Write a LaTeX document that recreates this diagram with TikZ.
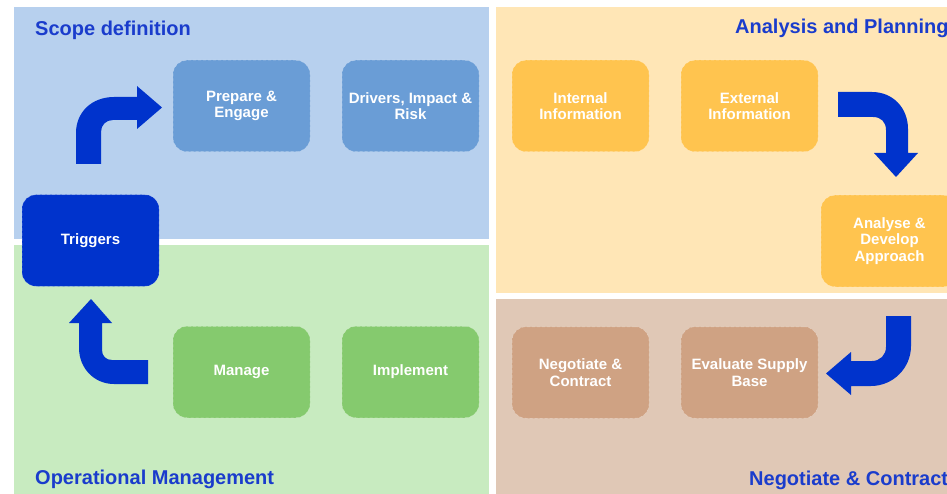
\documentclass[tikz,border=0pt]{standalone}
\usepackage{fontspec}
\setmainfont{Liberation Sans}
\definecolor{pBlue}{HTML}{B7D0EE}
\definecolor{bBlue}{HTML}{6A9DD6}
\definecolor{pGreen}{HTML}{C8EBC0}
\definecolor{bGreen}{HTML}{85CA6E}
\definecolor{pYellow}{HTML}{FFE6B6}
\definecolor{bYellow}{HTML}{FFC44F}
\definecolor{pBrown}{HTML}{E0C8B6}
\definecolor{bBrown}{HTML}{CFA283}
\definecolor{dBlue}{HTML}{0033CC}
\definecolor{tBlue}{HTML}{1A3CCC}
\begin{document}
\begin{tikzpicture}[x=1pt,y=-1pt,
  box/.style={rounded corners=14pt, minimum width=137pt, minimum height=91.5pt,
    inner sep=0pt, align=center, text=white,
    font=\fontsize{15}{16.5}\selectfont\bfseries,
    draw=white, draw opacity=0.35, line width=0.5pt, densely dashed},
  title/.style={anchor=base west, inner sep=0pt, text=tBlue,
    font=\fontsize{20}{22}\selectfont\bfseries},
  blockarrow/.style={fill=dBlue, draw=none}]
\useasboundingbox (0,0) rectangle (947,494);
\begin{scope}
\clip (0,0) rectangle (947,494);
\fill[white] (0,0) rectangle (947,494);
% panels
\fill[pBlue]   (13.5,7.5) rectangle (489,239);
\fill[pGreen]  (13.5,245) rectangle (489,500);
\fill[pYellow] (496,7.5)  rectangle (960,293);
\fill[pBrown]  (496,299)  rectangle (960,500);
% titles
\node[title] (tScope) at (35,35.5) {Scope definition};
\node[title] (tAnal)  at (735,34) {Analysis and Planning};
\node[title] (tOper)  at (35,484) {Operational Management};
\node[title] (tNeg)   at (749,485) {Negotiate \& Contract};
% boxes
\node[box, fill=dBlue]   (trig) at (90.5,240.5) {Triggers};
\node[box, fill=bBlue]   (prep) at (241.5,106) {Prepare \&\\Engage};
\node[box, fill=bBlue]   (driv) at (410.5,106) {Drivers, Impact \&\\Risk};
\node[box, fill=bYellow] (inte) at (580.5,106) {Internal\\Information};
\node[box, fill=bYellow] (exte) at (749.5,106) {External\\Information};
\node[box, fill=bYellow] (anal) at (889.5,241) {Analyse \&\\Develop\\Approach};
\node[box, fill=bBrown]  (nego) at (580.5,372.5) {Negotiate \&\\Contract};
\node[box, fill=bBrown]  (eval) at (749.5,372.5) {Evaluate Supply\\Base};
\node[box, fill=bGreen]  (mana) at (241.5,372) {Manage};
\node[box, fill=bGreen]  (impl) at (410.5,372) {Implement};
% block arrows
% Triggers -> Prepare (up, then right)
\fill[blockarrow] (76,164) -- (76,133) .. controls (76,112) and (92,97) .. (114,97)
  -- (137,97) -- (137,86) -- (162,107.5) -- (137,129) -- (137,120)
  -- (113,120) .. controls (106,120) and (101,125) .. (101,132) -- (101,164) -- cycle;
% External -> Analyse (right, then down)
\fill[blockarrow] (838,92) -- (872,92) .. controls (893,92) and (908,108) .. (908,129)
  -- (908,153) -- (918,153) -- (896,177) -- (874,153) -- (886,153)
  -- (886,130) .. controls (886,122) and (881,117) .. (873,117) -- (838,117) -- cycle;
% Analyse -> Evaluate (down, then left)
\fill[blockarrow] (911,316) -- (911,346) .. controls (911,368) and (893,386) .. (871,386)
  -- (851,386) -- (851,395) -- (826,373.5) -- (851,352) -- (851,361)
  -- (872,361) .. controls (880,361) and (886,355) .. (886,347) -- (886,316) -- cycle;
% Manage -> Triggers (left, then up)
\fill[blockarrow] (148,384) -- (114,384) .. controls (94,384) and (79,368) .. (79,348)
  -- (79,323) -- (69,323) -- (91,299) -- (112,323) -- (102,323)
  -- (102,350) .. controls (102,356) and (106,360) .. (112,360) -- (148,360) -- cycle;
\end{scope}
\end{tikzpicture}
\end{document}
